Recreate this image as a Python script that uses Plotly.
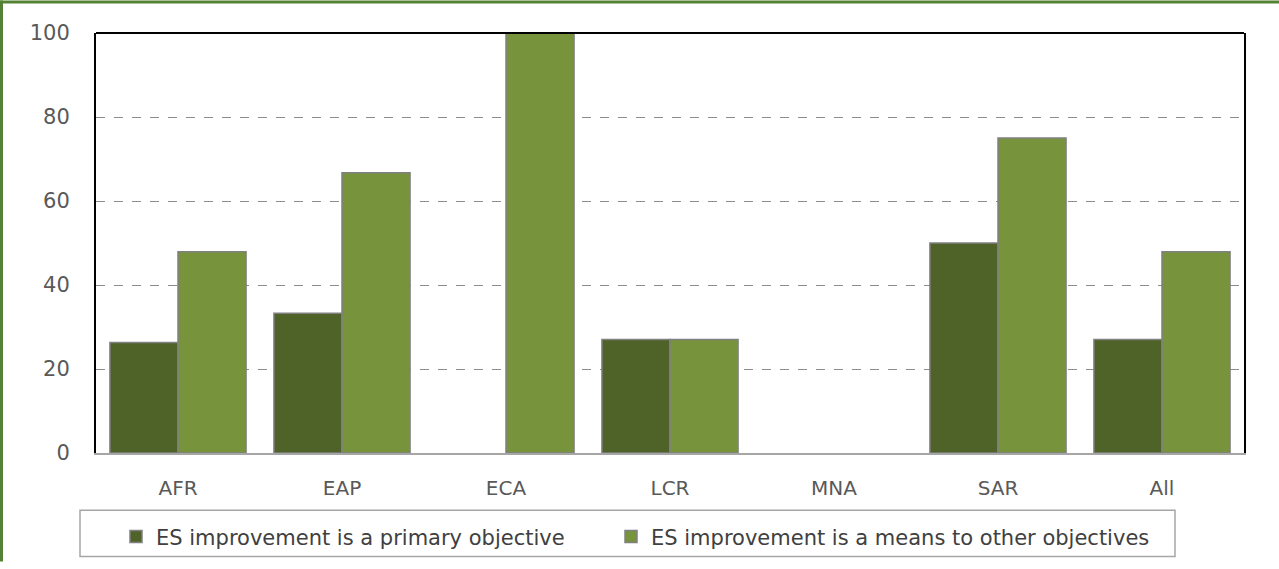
import plotly.graph_objects as go

categories = ["AFR", "EAP", "ECA", "LCR", "MNA", "SAR", "All"]
primary = [26.3, 33.3, 0, 27.0, 0, 50.0, 27.0]
means = [47.9, 66.7, 100, 27.0, 0, 75.0, 47.9]
series_names = ["ES improvement is a primary objective",
                "ES improvement is a means to other objectives"]
y_ticks = [0, 20, 40, 60, 80, 100]

W, H = 1279, 569
L, R, T, B = 96, 35, 33, 110
pw, ph = W - L - R, H - T - B

def px_x(p):
    return (p - L) / pw

def px_y(p):
    return (H - B - p) / ph

def outline_widths(vals):
    return [0 if v == 0 else 1.5 for v in vals]

fig = go.Figure()
fig.add_trace(go.Bar(x=categories, y=primary, name=series_names[0], legend="legend",
                     showlegend=True,
                     marker=dict(color="#4F6228",
                                 line=dict(color="#808080", width=outline_widths(primary)))))
fig.add_trace(go.Bar(x=categories, y=means, name=series_names[1], legend="legend2",
                     showlegend=True,
                     marker=dict(color="#77933C",
                                 line=dict(color="#808080", width=outline_widths(means)))))

font_family = "DejaVu Sans, sans-serif"
leg_common = dict(orientation="h", xanchor="left", y=px_y(544), yanchor="middle",
                  borderwidth=0, bgcolor="rgba(0,0,0,0)", visible=True,
                  font=dict(size=21, color="#404040"), itemwidth=30)
fig.update_layout(
    width=W, height=H, showlegend=True,
    margin=dict(l=L, r=R, t=T, b=B, pad=0),
    paper_bgcolor="white", plot_bgcolor="white",
    barmode="group", bargap=0.17, bargroupgap=0,
    font=dict(family=font_family, size=20, color="#595959"),
    xaxis=dict(showline=True, linecolor="#A6A6A6", linewidth=1.5, ticks="",
               showgrid=False, tickfont=dict(size=20, color="#595959"),
               ticklabelstandoff=16, layer="above traces"),
    yaxis=dict(range=[0, 100], tickvals=y_ticks, showline=True, linecolor="black",
               linewidth=2, mirror=True, showgrid=True, gridcolor="#8C8C8C",
               griddash="dash", gridwidth=1, zeroline=False, ticks="",
               tickfont=dict(size=21, color="#595959"), ticklabelstandoff=20),
    legend=dict(x=px_x(116), **leg_common),
    legend2=dict(x=px_x(611), **leg_common),
    shapes=[
        dict(type="line", xref="paper", yref="paper", x0=0, x1=1, y0=1, y1=1,
             line=dict(color="black", width=2)),
        dict(type="rect", xref="paper", yref="paper", x0=px_x(80), x1=px_x(1175),
             y0=px_y(517), y1=px_y(564), line=dict(color="#A6A6A6", width=1.5)),
        dict(type="line", xref="paper", yref="paper", x0=px_x(1.5), x1=px_x(1.5),
             y0=px_y(0), y1=px_y(H), line=dict(color="#548235", width=3)),
        dict(type="line", xref="paper", yref="paper", x0=px_x(0), x1=px_x(W),
             y0=px_y(1.5), y1=px_y(1.5), line=dict(color="#548235", width=3)),
    ],
)

fig.write_html("out.html")
